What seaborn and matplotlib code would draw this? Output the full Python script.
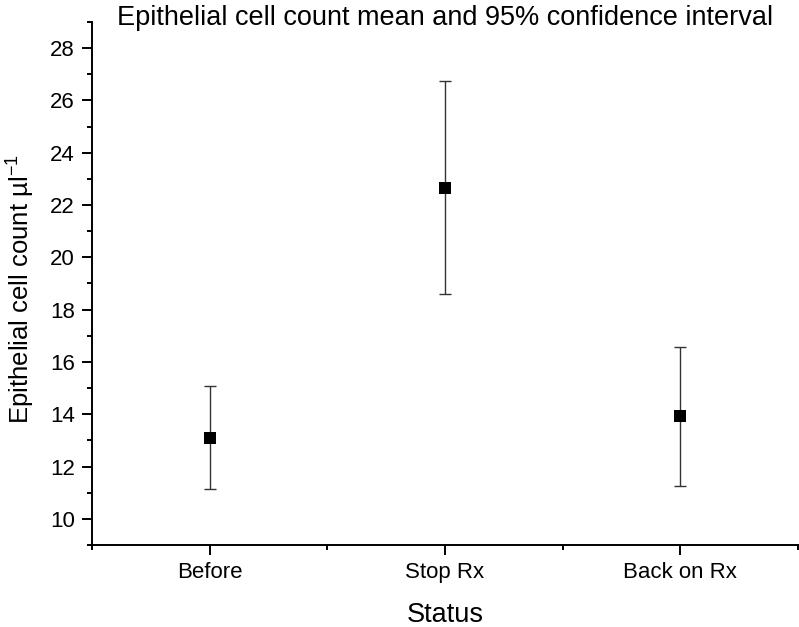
import matplotlib
matplotlib.use('Agg')
import matplotlib.pyplot as plt
import pandas as pd
import seaborn as sns
from matplotlib.ticker import FixedLocator

# Values
status = ['Before', 'Stop Rx', 'Back on Rx']
mean_count = [13.1, 22.67, 13.94]
ci_low = [11.13, 18.58, 11.26]
ci_high = [15.07, 26.74, 16.58]

df = pd.DataFrame({'Status': status, 'mean': mean_count, 'low': ci_low, 'high': ci_high})

sns.set_theme(style='ticks')
plt.rcParams['font.family'] = ['Liberation Sans', 'DejaVu Sans']
plt.rcParams['mathtext.fontset'] = 'custom'
plt.rcParams['mathtext.rm'] = 'Liberation Sans'
plt.rcParams['mathtext.it'] = 'Liberation Sans'

fig = plt.figure(figsize=(7.99, 6.27), dpi=100)
ax = fig.add_axes([92 / 799, 1 - 545 / 627, 706 / 799, 523 / 627])

# Error bars (95% CI) first, then the square means on top
x_pos = list(range(len(df)))
ax.errorbar(x_pos, df['mean'],
            yerr=[df['mean'] - df['low'], df['high'] - df['mean']],
            fmt='none', ecolor='#333333', elinewidth=1.0, capsize=4.5, capthick=1.0, zorder=2)
sns.scatterplot(data=df, x='Status', y='mean', marker='s', s=68, color='black',
                edgecolor='black', linewidth=0, ax=ax, zorder=3, legend=False)

ax.set_xlim(-0.5, 2.5)
ax.set_ylim(9, 29)
ax.yaxis.set_major_locator(FixedLocator(list(range(10, 29, 2))))
ax.yaxis.set_minor_locator(FixedLocator(list(range(9, 30, 2))))
ax.xaxis.set_major_locator(FixedLocator(x_pos))
ax.set_xticklabels(status)
ax.xaxis.set_minor_locator(FixedLocator([-0.5, 0.5, 1.5, 2.5]))

sns.despine(ax=ax)
for side in ['left', 'bottom']:
    ax.spines[side].set_linewidth(1.4)
    ax.spines[side].set_color('black')

ax.tick_params(which='major', direction='out', length=7.5, width=1.4, color='black',
               labelsize=16, labelcolor='black', pad=5)
ax.tick_params(which='minor', direction='out', length=3.8, width=1.4, color='black')

ax.set_xlabel('Status', fontsize=19.5, color='black')
ax.xaxis.set_label_coords(0.5, -0.109)
ax.set_ylabel('Epithelial cell count µl$^{-1}$', fontsize=18.5, color='black')
ax.yaxis.set_label_coords(-0.078, 0.49)
ax.text(0.5, 0.9943, 'Epithelial cell count mean and 95% confidence interval',
        transform=ax.transAxes, ha='center', va='baseline', fontsize=19.5, color='black')

fig.savefig('out.png', dpi=100)
